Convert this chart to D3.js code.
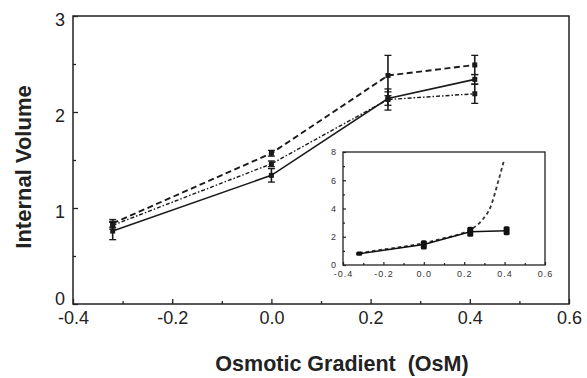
<!DOCTYPE html>
<html>
<head>
<meta charset="utf-8">
<script src="https://cdn.jsdelivr.net/npm/d3@7"></script>
<style>
  body { margin: 0; background: #fff; }
  svg { display: block; font-family: "Liberation Sans", Arial, sans-serif; }
  .axis path, .axis line { stroke: #222; }
</style>
</head>
<body>
<figure id="chart" style="margin:0"></figure>
<script>
// main plot
const xValues = [-0.32, 0.0, 0.235, 0.41];
const solidVals = [0.76, 1.34, 2.14, 2.34];
const solidErr = [0.09, 0.07, 0.07, 0.05];
const dashedVals = [0.84, 1.57, 2.38, 2.49];
const dashedErr = [0.04, 0.03, 0.21, 0.1];
const dashdotVals = [0.82, 1.46, 2.13, 2.19];
const dashdotErr = [0.04, 0.03, 0.11, 0.1];

const xTicks = [-0.4, -0.2, 0.0, 0.2, 0.4, 0.6];
const xMinor = [-0.3, -0.1, 0.1, 0.3, 0.5];
const yTicks = [0, 1, 2, 3];
const yMinor = [0.5, 1.5, 2.5];

// inset
const insetX = [-0.32, 0.0, 0.23, 0.41];
const insetMean = [0.8, 1.45, 2.35, 2.43];
const insetLo = [0.65, 1.1, 2.0, 2.1];
const insetHi = [0.95, 1.75, 2.7, 2.75];
const curveX = [-0.32, -0.2, -0.1, 0.0, 0.1, 0.2, 0.23, 0.29, 0.33, 0.37, 0.395];
const curveY = [0.85, 1.1, 1.3, 1.55, 1.9, 2.3, 2.5, 3.2, 4.1, 6.0, 7.3];
const insetXTicks = [-0.4, -0.2, 0.0, 0.2, 0.4, 0.6];
const insetXMinor = [-0.3, -0.1, 0.1, 0.3, 0.5];
const insetYTicks = [0, 2, 4, 6, 8];
const insetYMinor = [1, 3, 5, 7];

const W = 587, H = 378;
const svg = d3.select('#chart').append('svg')
  .attr('width', W).attr('height', H);

const x = d3.scaleLinear().domain([-0.4, 0.6]).range([73, 569]);
const y = d3.scaleLinear().domain([0, 3]).range([304, 16]);
const fmt = d => d.toFixed(1);

// frame
svg.append('rect')
  .attr('x', x(-0.4)).attr('y', y(3))
  .attr('width', x(0.6) - x(-0.4)).attr('height', y(0) - y(3))
  .attr('fill', 'none').attr('stroke', '#222').attr('stroke-width', 1.5);

// axes, ticks inward
svg.append('g').attr('class', 'axis')
  .attr('transform', 'translate(0,' + y(0) + ')')
  .call(d3.axisBottom(x).tickValues(xTicks).tickFormat(fmt).tickSize(-5).tickPadding(7));
svg.append('g').attr('class', 'axis')
  .attr('transform', 'translate(0,' + y(0) + ')')
  .call(d3.axisBottom(x).tickValues(xMinor).tickFormat('').tickSize(-3));
svg.append('g').attr('class', 'axis yax')
  .attr('transform', 'translate(' + x(-0.4) + ',0)')
  .call(d3.axisLeft(y).tickValues(yTicks).tickFormat(d3.format('d')).tickSize(-5).tickPadding(8));
svg.append('g').attr('class', 'axis')
  .attr('transform', 'translate(' + x(-0.4) + ',0)')
  .call(d3.axisLeft(y).tickValues(yMinor).tickFormat('').tickSize(-3));
svg.selectAll('.axis path').remove();
svg.selectAll('.axis text')
  .attr('font-size', 18).attr('fill', '#222')
  .attr('font-family', '"Liberation Sans", Arial, sans-serif');
svg.selectAll('.yax text').attr('dy', d => d === 0 ? '0.05em' : '0.5em');
svg.selectAll('.axis line').attr('stroke-width', 1.3);

// series
const series = [
  { vals: solidVals, err: solidErr, dash: null, w: 1.6 },
  { vals: dashedVals, err: dashedErr, dash: '6,3.5', w: 1.9 },
  { vals: dashdotVals, err: dashdotErr, dash: '4,2,1.5,2', w: 1.4 }
];

const line = d3.line().x(d => x(d[0])).y(d => y(d[1]));

series.forEach(s => {
  const pts = xValues.map((v, i) => [v, s.vals[i], s.err[i]]);
  const g = svg.append('g');
  g.append('path')
    .datum(pts)
    .attr('d', line)
    .attr('fill', 'none')
    .attr('stroke', '#1a1a1a')
    .attr('stroke-width', s.w)
    .attr('stroke-dasharray', s.dash);
  const eb = g.selectAll('g.eb').data(pts).enter().append('g');
  eb.append('line')
    .attr('x1', d => x(d[0])).attr('x2', d => x(d[0]))
    .attr('y1', d => y(d[1] - d[2])).attr('y2', d => y(d[1] + d[2]))
    .attr('stroke', '#1a1a1a').attr('stroke-width', 1.6);
  [-1, 1].forEach(k => {
    eb.append('line')
      .attr('x1', d => x(d[0]) - 3.5).attr('x2', d => x(d[0]) + 3.5)
      .attr('y1', d => y(d[1] + k * d[2])).attr('y2', d => y(d[1] + k * d[2]))
      .attr('stroke', '#1a1a1a').attr('stroke-width', 1.3);
  });
  eb.append('rect')
    .attr('x', d => x(d[0]) - 2.5).attr('y', d => y(d[1]) - 2.5)
    .attr('width', 5).attr('height', 5)
    .attr('fill', '#1a1a1a');
});

// axis titles
svg.append('text')
  .attr('transform', 'translate(31,167) rotate(-90)')
  .attr('text-anchor', 'middle')
  .attr('font-size', 22).attr('font-weight', 'bold').attr('fill', '#222')
  .text('Internal Volume');
svg.append('text')
  .attr('x', 342).attr('y', 371)
  .attr('text-anchor', 'middle')
  .attr('font-size', 21.5).attr('font-weight', 'bold').attr('fill', '#222')
  .attr('xml:space', 'preserve')
  .text('Osmotic Gradient  (OsM)');

// inset
const ix = d3.scaleLinear().domain([-0.4, 0.6]).range([343, 545]);
const iy = d3.scaleLinear().domain([0, 8]).range([265, 152]);
const inset = svg.append('g');
inset.append('rect')
  .attr('x', ix(-0.4)).attr('y', iy(8))
  .attr('width', ix(0.6) - ix(-0.4)).attr('height', iy(0) - iy(8))
  .attr('fill', '#fff').attr('stroke', '#222').attr('stroke-width', 1.3);

inset.append('g').attr('class', 'iaxis')
  .attr('transform', 'translate(0,' + iy(0) + ')')
  .call(d3.axisBottom(ix).tickValues(insetXTicks).tickFormat(fmt).tickSize(-3).tickPadding(6));
inset.append('g').attr('class', 'iaxis')
  .attr('transform', 'translate(0,' + iy(0) + ')')
  .call(d3.axisBottom(ix).tickValues(insetXMinor).tickFormat('').tickSize(-2));
inset.append('g').attr('class', 'iaxis')
  .attr('transform', 'translate(' + ix(-0.4) + ',0)')
  .call(d3.axisLeft(iy).tickValues(insetYTicks).tickFormat(d3.format('d')).tickSize(-3).tickPadding(6));
inset.append('g').attr('class', 'iaxis')
  .attr('transform', 'translate(' + ix(-0.4) + ',0)')
  .call(d3.axisLeft(iy).tickValues(insetYMinor).tickFormat('').tickSize(-2));
inset.selectAll('.iaxis path').remove();
inset.selectAll('.iaxis line').attr('stroke', '#222').attr('stroke-width', 1.2);
inset.selectAll('.iaxis text')
  .attr('font-size', 9).attr('fill', '#333').attr('letter-spacing', 1)
  .attr('font-family', '"Liberation Sans", Arial, sans-serif');

const curvePts = curveX.map((v, i) => [v, curveY[i]]);
inset.append('path')
  .datum(curvePts)
  .attr('d', d3.line().x(d => ix(d[0])).y(d => iy(d[1])).curve(d3.curveMonotoneX))
  .attr('fill', 'none').attr('stroke', '#333')
  .attr('stroke-width', 1.8).attr('stroke-dasharray', '3.5,3');

const insetPts = insetX.map((v, i) => [v, insetMean[i], insetLo[i], insetHi[i]]);
inset.append('path')
  .datum(insetPts)
  .attr('d', d3.line().x(d => ix(d[0])).y(d => iy(d[1])))
  .attr('fill', 'none').attr('stroke', '#111').attr('stroke-width', 1.6);
inset.selectAll('rect.m').data(insetPts).enter().append('rect')
  .attr('x', d => ix(d[0]) - 3).attr('y', d => iy(d[3]))
  .attr('width', 6).attr('height', d => iy(d[2]) - iy(d[3]))
  .attr('rx', 1.5)
  .attr('fill', '#111');
</script>
</body>
</html>
